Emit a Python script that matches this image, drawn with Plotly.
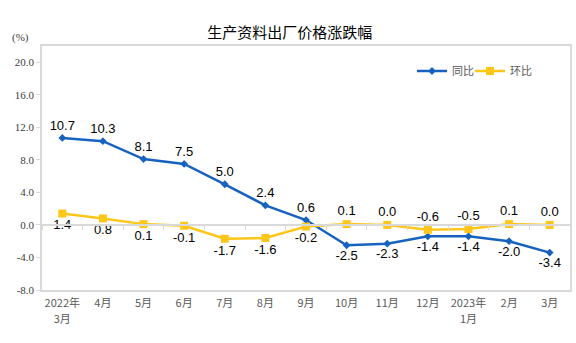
import plotly.graph_objects as go

categories = ["2022年<br>3月", "4月", "5月", "6月", "7月", "8月", "9月", "10月", "11月", "12月", "2023年<br>1月", "2月", "3月"]
yoy = [10.7, 10.3, 8.1, 7.5, 5.0, 2.4, 0.6, -2.5, -2.3, -1.4, -1.4, -2.0, -3.4]
mom = [1.4, 0.8, 0.1, -0.1, -1.7, -1.6, -0.2, 0.1, 0.0, -0.6, -0.5, 0.1, 0.0]
yoy_pos = ["top center"] * 7 + ["bottom center"] * 6
mom_pos = ["bottom center"] * 7 + ["top center"] * 6
y_ticks = [-8, -4, 0, 4, 8, 12, 16, 20]

BLUE = "#1762C0"
YELLOW = "#FFC61A"
xs = list(range(len(categories)))

# split two-line category labels into first and second rows
line1 = [c.split("<br>")[0] for c in categories]
line2_vals = [i for i, c in enumerate(categories) if "<br>" in c]
line2_text = [categories[i].split("<br>")[1] for i in line2_vals]

fig = go.Figure()
fig.add_trace(go.Scatter(
    x=xs, y=yoy, name="同比", mode="lines+markers+text", legend="legend",
    line=dict(color=BLUE, width=2.5),
    marker=dict(symbol="diamond", size=6, color=BLUE),
    text=[f"{v:.1f}" for v in yoy], textposition=yoy_pos,
    textfont=dict(family="Liberation Sans, Arial", size=13, color="#000000"),
))
fig.add_trace(go.Scatter(
    x=xs, y=mom, name="环比", mode="lines+markers+text", legend="legend2",
    line=dict(color=YELLOW, width=2.5),
    marker=dict(symbol="square", size=8, color=YELLOW),
    text=[f"{v:.1f}" for v in mom], textposition=mom_pos,
    textfont=dict(family="Liberation Sans, Arial", size=13, color="#000000"),
))
# invisible traces to drive the helper axes
fig.add_trace(go.Scatter(x=xs, y=[0] * len(xs), xaxis="x2", mode="lines",
                         line=dict(width=0), showlegend=False, hoverinfo="skip"))
fig.add_trace(go.Scatter(x=xs, y=[0] * len(xs), xaxis="x3", mode="lines",
                         line=dict(width=0), showlegend=False, hoverinfo="skip"))

legend_font = dict(family="Noto Sans CJK SC", size=11, color="#595959")
tick_font = dict(family="Noto Sans CJK SC", size=11, color="#595959")

fig.update_layout(
    width=576, height=343,
    margin=dict(l=42, r=6, t=46, b=53, autoexpand=False),
    paper_bgcolor="white", plot_bgcolor="white",
    title=dict(text="生产资料出厂价格涨跌幅", x=0.503, xanchor="center",
               y=1 - 33 / 343, yanchor="middle",
               font=dict(family="Noto Sans CJK SC", size=15, color="#000000")),
    xaxis=dict(
        range=[-0.5, 12.5], tickmode="array", tickvals=xs, ticktext=line1,
        showline=True, linecolor="#d9d9d9", linewidth=1.5, mirror=True,
        showgrid=False, zeroline=False, ticks="", ticklabelstandoff=2,
        tickfont=tick_font,
    ),
    xaxis2=dict(
        range=[-0.5, 12.5], overlaying="x", anchor="free", position=8 / 30,
        side="bottom", showline=True, linecolor="#d9d9d9", linewidth=1.5,
        tickmode="array", tickvals=[i + 0.5 for i in range(-1, 13)],
        ticks="outside", ticklen=4, tickcolor="#d9d9d9", showticklabels=False,
        showgrid=False, zeroline=False,
    ),
    xaxis3=dict(
        range=[-0.5, 12.5], overlaying="x", anchor="y", side="bottom",
        showline=False, tickmode="array", tickvals=line2_vals, ticktext=line2_text,
        ticks="", ticklabelstandoff=21, showgrid=False, zeroline=False,
        tickfont=tick_font,
    ),
    yaxis=dict(
        range=[-8, 22], tickmode="array", tickvals=y_ticks,
        ticktext=[f"{v:.1f}" for v in y_ticks],
        showline=True, linecolor="#d9d9d9", linewidth=1.5, mirror=True,
        ticks="outside", ticklen=4, tickcolor="#d9d9d9",
        showgrid=False, zeroline=False,
        tickfont=dict(family="Liberation Serif, Times New Roman", size=11, color="#404040"),
    ),
    legend=dict(orientation="h", x=(412 - 42) / 528, y=(290 - 71) / 244,
                xanchor="left", yanchor="middle", bgcolor="rgba(0,0,0,0)", font=legend_font),
    legend2=dict(orientation="h", x=(470 - 42) / 528, y=(290 - 71) / 244,
                 xanchor="left", yanchor="middle", bgcolor="rgba(0,0,0,0)", font=legend_font),
    annotations=[dict(text="(%)", xref="paper", yref="paper", x=-0.04, y=(290 - 38) / 244,
                      xanchor="center", yanchor="middle", showarrow=False,
                      font=dict(family="Liberation Serif, Times New Roman", size=11, color="#404040"))],
)

fig.write_html("out.html")
